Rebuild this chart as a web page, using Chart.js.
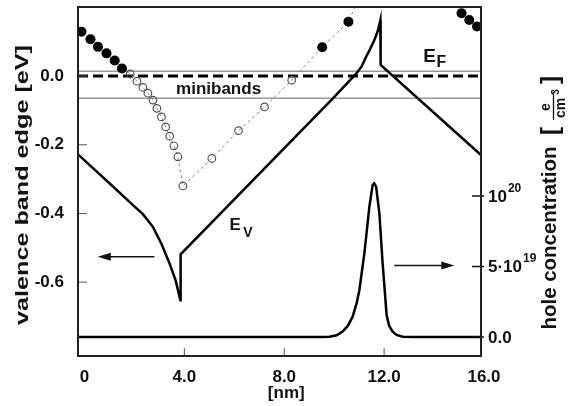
<!DOCTYPE html>
<html>
<head>
<meta charset="utf-8">
<script src="https://cdn.jsdelivr.net/npm/chart.js@4.4.1/dist/chart.umd.min.js"></script>
<style>
    body { margin: 0; background: #fff; }
    #wrap { width: 579px; height: 406px; }
</style>
</head>
<body>
<div id="wrap"><canvas id="graphCanvas"></canvas></div>
<script>
// valence band edge E_V [eV] vs position [nm]
var evX = [-0.26, 1.0, 1.94, 2.34, 2.74, 3.08, 3.41, 3.65, 3.84, 3.85, 8.61, 9.94, 10.88, 11.1, 11.28, 11.45, 11.61, 11.75, 11.85, 11.86, 15.88];
var evY = [-0.228, -0.312, -0.376, -0.402, -0.439, -0.488, -0.546, -0.595, -0.653, -0.519, -0.165, -0.066, 0.007, 0.028, 0.056, 0.080, 0.105, 0.132, 0.163, 0.032, -0.230];

// hole concentration [1/cm3]
var holeX = [-0.26, 9.5, 9.81, 10.1, 10.34, 10.55, 10.74, 10.9, 11.01, 11.21, 11.41, 11.54, 11.6, 11.68, 11.81, 11.94, 12.1, 12.2, 12.34, 12.5, 12.74, 13.2, 15.88];
var holeY = [0, 0, 0.02e19, 0.12e19, 0.38e19, 0.8e19, 1.44e19, 2.4e19, 3.33e19, 5.94e19, 9.24e19, 1.078e20, 1.09e20, 1.066e20, 8.77e19, 5.23e19, 1.56e19, 0.8e19, 0.38e19, 0.15e19, 0.02e19, 0, 0];

// miniband dispersion points
var filledLeftX = [-0.12, 0.24, 0.54, 0.88, 1.21, 1.50];
var filledLeftY = [0.129, 0.107, 0.085, 0.066, 0.045, 0.022];
var openX = [1.83, 2.10, 2.34, 2.54, 2.74, 2.90, 3.08, 3.25, 3.41, 3.58, 3.74, 3.94, 5.10, 6.17, 7.21, 8.30];
var openY = [0.006, -0.015, -0.033, -0.050, -0.070, -0.094, -0.119, -0.148, -0.175, -0.203, -0.235, -0.320, -0.240, -0.159, -0.090, -0.012];
var filledRightX = [9.52, 10.57, 11.0];
var filledRightY = [0.084, 0.158, 0.228];
var filledFarX = [14.5, 15.10, 15.41, 15.72];
var filledFarY = [0.235, 0.183, 0.163, 0.144];

var fermiLevel = 0.0;
var minibandTop = 0.014;
var minibandBottom = -0.065;

var xTicks = [0, 4, 8, 12, 16];
var xTickLabels = ['0', '4.0', '8.0', '12.0', '16.0'];
var yTicks = [0, -0.2, -0.4, -0.6];
var yTickLabels = ['0.0', '-0.2', '-0.4', '-0.6'];
var holeTicks = [0, 5e19, 1e20];
var holeTickBase = ['0.0', '5\u00b710', '10'];
var holeTickSup = ['', '19', '20'];

var FONT = "'Liberation Sans', Arial, sans-serif";

function pts(xs, ys) {
    var out = [];
    for (var i in xs) {
        out.push({x: xs[i], y: ys[i]});
    }
    return out;
}

function flat(level) {
    return [{x: -0.26, y: level}, {x: 15.88, y: level}];
}

function noPad(s) {
    s.paddingTop = 0;
    s.paddingBottom = 0;
    s.paddingLeft = 0;
    s.paddingRight = 0;
}

// draws frame, inner ticks, titles, labels and arrows
var decoPlugin = {
    id: 'deco',
    afterDraw: function (chart) {
        var ctx = chart.ctx;
        var a = chart.chartArea;
        var xs = chart.scales.x, ys = chart.scales.y, hs = chart.scales.y2;
        ctx.save();

        // inner tick marks
        ctx.strokeStyle = '#555';
        ctx.lineWidth = 1;
        ctx.beginPath();
        for (var i = 1; i < 4; i++) {
            var px = xs.getPixelForValue(xTicks[i]);
            ctx.moveTo(px, a.bottom); ctx.lineTo(px, a.bottom - 8);
        }
        for (var j in yTicks) {
            var py = ys.getPixelForValue(yTicks[j]);
            ctx.moveTo(a.left, py); ctx.lineTo(a.left + 9, py);
        }
        ctx.stroke();
        ctx.strokeStyle = '#111';
        ctx.lineWidth = 1.5;
        ctx.beginPath();
        for (var k in holeTicks) {
            var hy = hs.getPixelForValue(holeTicks[k]);
            ctx.moveTo(a.right - 9, hy); ctx.lineTo(a.right + 3, hy);
        }
        ctx.stroke();

        // frame
        ctx.strokeStyle = '#222';
        ctx.lineWidth = 2;
        ctx.strokeRect(a.left, a.top, a.right - a.left, a.bottom - a.top);

        ctx.fillStyle = '#111';
        // right tick labels with superscripts
        for (var m in holeTicks) {
            var ty = hs.getPixelForValue(holeTicks[m]);
            ctx.font = 'bold 17px ' + FONT;
            ctx.textAlign = 'left';
            ctx.textBaseline = 'middle';
            ctx.fillText(holeTickBase[m], a.right + 7, ty + 1);
            var w = ctx.measureText(holeTickBase[m]).width;
            if (holeTickSup[m]) {
                ctx.font = 'bold 12px ' + FONT;
                ctx.textBaseline = 'alphabetic';
                ctx.fillText(holeTickSup[m], a.right + 7 + w + 1, ty - 4);
            }
        }

        // left title
        ctx.save();
        ctx.translate(23, 185);
        ctx.rotate(-Math.PI / 2);
        ctx.font = 'bold 19px ' + FONT;
        var t1 = 'valence band edge [eV]';
        var s1 = 280 / ctx.measureText(t1).width;
        ctx.scale(s1, 1);
        ctx.textAlign = 'center';
        ctx.textBaseline = 'middle';
        ctx.fillText(t1, 0, 0);
        ctx.restore();

        // right title
        ctx.save();
        ctx.translate(550, 238);
        ctx.rotate(-Math.PI / 2);
        ctx.font = 'bold 20px ' + FONT;
        var t2 = 'hole concentration';
        var s2 = 183 / ctx.measureText(t2).width;
        ctx.scale(s2, 1);
        ctx.textAlign = 'center';
        ctx.textBaseline = 'middle';
        ctx.fillText(t2, 0, 0);
        ctx.restore();

        // unit [e / cm3]
        ctx.save();
        ctx.translate(553, 106);
        ctx.rotate(-Math.PI / 2);
        ctx.textAlign = 'center';
        ctx.textBaseline = 'middle';
        ctx.font = 'bold 24px ' + FONT;
        ctx.fillText('[', -25, -2);
        ctx.fillText(']', 26, -2);
        ctx.font = 'bold 14px ' + FONT;
        ctx.fillText('e', -1, -7);
        ctx.fillText('cm', -2, 8);
        ctx.font = 'bold 10px ' + FONT;
        ctx.fillText('3', 14, 3);
        ctx.lineWidth = 1.3;
        ctx.strokeStyle = '#111';
        ctx.beginPath();
        ctx.moveTo(-14, 0.5); ctx.lineTo(14, 0.5);
        ctx.stroke();
        ctx.restore();

        // x title
        ctx.font = 'bold 17px ' + FONT;
        ctx.textAlign = 'center';
        ctx.textBaseline = 'alphabetic';
        ctx.fillText('[nm]', xs.getPixelForValue(8) + 2, 398);

        // in-plot labels
        ctx.fillText('minibands', xs.getPixelForValue(5.37), 94);
        ctx.textAlign = 'left';
        ctx.font = 'bold 19px ' + FONT;
        ctx.fillText('E', xs.getPixelForValue(13.57), 62);
        ctx.font = 'bold 16px ' + FONT;
        ctx.fillText('F', xs.getPixelForValue(14.1), 67);
        ctx.font = 'bold 17px ' + FONT;
        ctx.fillText('E', xs.getPixelForValue(5.81), 230);
        ctx.font = 'bold 14px ' + FONT;
        ctx.fillText('V', xs.getPixelForValue(6.36), 237);

        // arrows
        function arrow(x0, x1, y) {
            var dir = x1 > x0 ? 1 : -1;
            ctx.strokeStyle = '#111';
            ctx.lineWidth = 1.5;
            ctx.beginPath();
            ctx.moveTo(x0, y); ctx.lineTo(x1 - dir * 8, y);
            ctx.stroke();
            ctx.beginPath();
            ctx.moveTo(x1, y);
            ctx.lineTo(x1 - dir * 13, y - 4);
            ctx.lineTo(x1 - dir * 13, y + 4);
            ctx.closePath();
            ctx.fill();
        }
        arrow(xs.getPixelForValue(2.8), xs.getPixelForValue(0.53), ys.getPixelForValue(-0.526));
        arrow(xs.getPixelForValue(12.41), xs.getPixelForValue(14.81), hs.getPixelForValue(5e19) - 1);

        ctx.restore();
    }
};

function showGraph() {
    Chart.defaults.font.family = FONT;
    Chart.defaults.color = '#111';

    var dispersion = pts(filledLeftX, filledLeftY)
        .concat(pts(openX, openY))
        .concat(pts(filledRightX, filledRightY));

    var chartdata = {
        datasets: [{
            label: 'filled',
            data: pts(filledLeftX, filledLeftY).concat(pts(filledRightX, filledRightY)).concat(pts(filledFarX, filledFarY)),
            showLine: false,
            pointRadius: 5,
            pointBackgroundColor: '#000',
            pointBorderWidth: 0
        }, {
            label: 'open',
            data: pts(openX, openY),
            showLine: false,
            pointRadius: 3.8,
            pointBackgroundColor: 'rgba(255,255,255,0)',
            pointBorderColor: '#555',
            pointBorderWidth: 1.2
        }, {
            label: 'E_V',
            data: pts(evX, evY),
            showLine: true,
            borderColor: '#000',
            borderWidth: 2.5,
            pointRadius: 0
        }, {
            label: 'holes',
            data: pts(holeX, holeY),
            yAxisID: 'y2',
            showLine: true,
            borderColor: '#000',
            borderWidth: 2.5,
            pointRadius: 0
        }, {
            label: 'dispersion',
            data: dispersion,
            showLine: true,
            borderColor: '#888',
            borderWidth: 1,
            borderDash: [3, 3],
            pointRadius: 0
        }, {
            label: 'dispersion2',
            data: pts(filledFarX, filledFarY),
            showLine: true,
            borderColor: '#888',
            borderWidth: 1,
            borderDash: [3, 3],
            pointRadius: 0
        }, {
            label: 'E_F',
            data: flat(fermiLevel),
            showLine: true,
            borderColor: '#000',
            borderWidth: 3,
            borderDash: [10, 5],
            pointRadius: 0
        }, {
            label: 'mb top',
            data: flat(minibandTop),
            showLine: true,
            borderColor: '#999',
            borderWidth: 1.5,
            pointRadius: 0
        }, {
            label: 'mb bottom',
            data: flat(minibandBottom),
            showLine: true,
            borderColor: '#999',
            borderWidth: 1.5,
            pointRadius: 0
        }]
    };

    new Chart(document.getElementById('graphCanvas'), {
        type: 'scatter',
        data: chartdata,
        plugins: [decoPlugin],
        options: {
            responsive: true,
            maintainAspectRatio: false,
            animation: false,
            layout: { padding: { top: 7, left: 0, right: 0, bottom: 0 } },
            plugins: { legend: { display: false }, tooltip: { enabled: false } },
            scales: {
                x: {
                    type: 'linear',
                    min: -0.26,
                    max: 15.88,
                    afterFit: function (s) { s.height = 50; noPad(s); },
                    afterBuildTicks: function (s) {
                        s.ticks = xTicks.map(function (v) { return {value: v}; });
                    },
                    ticks: {
                        font: { size: 17, weight: 'bold' },
                        padding: 3,
                        maxRotation: 0,
                        autoSkip: false,
                        callback: function (v) { return xTickLabels[xTicks.indexOf(v)]; }
                    },
                    grid: { display: false },
                    border: { display: false }
                },
                y: {
                    type: 'linear',
                    min: -0.815,
                    max: 0.201,
                    afterFit: function (s) { s.width = 78; noPad(s); },
                    afterBuildTicks: function (s) {
                        s.ticks = yTicks.map(function (v) { return {value: v}; });
                    },
                    ticks: {
                        font: { size: 17, weight: 'bold' },
                        padding: 6,
                        callback: function (v) { return yTickLabels[yTicks.indexOf(v)]; }
                    },
                    grid: { display: false },
                    border: { display: false }
                },
                y2: {
                    type: 'linear',
                    position: 'right',
                    min: -1.35e19,
                    max: 2.34e20,
                    afterFit: function (s) { s.width = 98; noPad(s); },
                    ticks: { display: false },
                    grid: { display: false },
                    border: { display: false }
                }
            }
        }
    });
}

showGraph();
</script>
</body>
</html>
